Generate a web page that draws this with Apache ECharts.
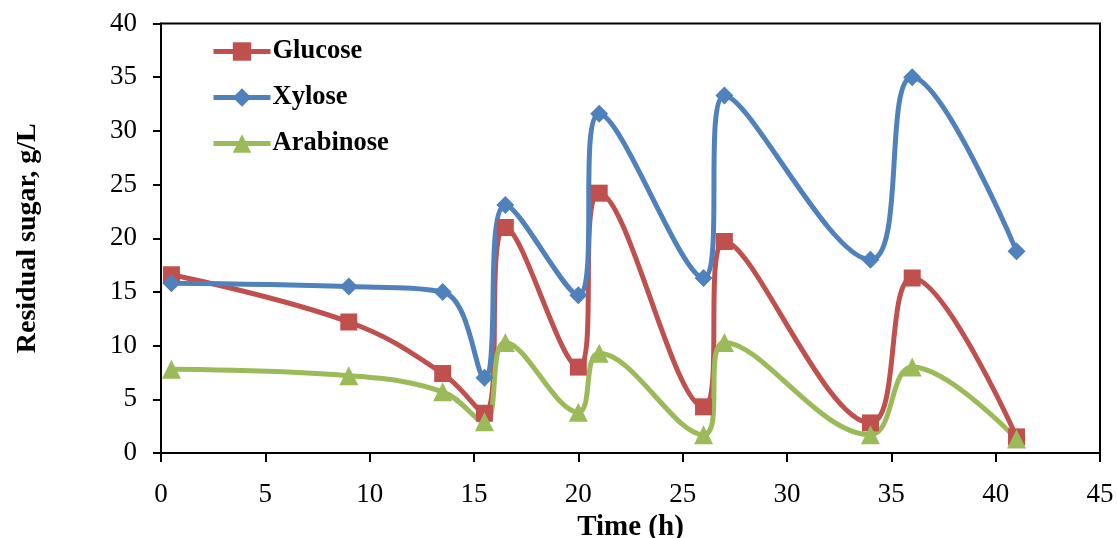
<!DOCTYPE html>
<html>
<head>
<meta charset="utf-8">
<script src="https://cdn.jsdelivr.net/npm/echarts@6/dist/echarts.min.js"></script>
<style>
html,body{margin:0;padding:0;background:#fff;}
#chart{width:1117px;height:538px;}
</style>
</head>
<body>
<div id="chart"></div>
<script>
var timeH = [0.5, 9, 13.5, 15.5, 16.5, 20, 21, 26, 27, 34, 36, 41];
var glucose = [16.6, 12.2, 7.4, 3.7, 21.0, 8.0, 24.2, 4.3, 19.7, 2.8, 16.3, 1.5];
var xylose = [15.8, 15.5, 15.0, 7.0, 23.1, 14.7, 31.6, 16.3, 33.3, 18.0, 35.0, 18.8];
var arabinose = [7.8, 7.2, 5.7, 2.9, 10.3, 3.8, 9.3, 1.7, 10.3, 1.7, 8.0, 1.3];
var xTicks = [0, 5, 10, 15, 20, 25, 30, 35, 40, 45];
var yTicks = [0, 5, 10, 15, 20, 25, 30, 35, 40];

function pairs(ys) { return timeH.map(function (t, i) { return [t, ys[i]]; }); }

var FONT = '"Liberation Serif", "Times New Roman", serif';
var chart = echarts.init(document.getElementById('chart'), null, {renderer: 'canvas'});

function mk(name, data, color, symbol, size) {
  return {
    name: name, type: 'line', data: pairs(data), smooth: 0.4,
    symbol: symbol, symbolSize: size, showSymbol: true,
    lineStyle: {color: color, width: 5},
    itemStyle: {color: color},
    emphasis: {disabled: true},
    animation: false
  };
}

chart.setOption({
  backgroundColor: '#fff',
  animation: false,
  grid: {left: 161, right: 17, top: 23.5, bottom: 85, show: true, borderColor: '#000', borderWidth: 2,
         backgroundColor: 'transparent', containLabel: false, outerBoundsMode: 'none'},
  legend: {
    left: 211, top: 38, orient: 'vertical', padding: 0,
    itemWidth: 57, itemHeight: 23, itemGap: 19,
    lineStyle: {width: 5},
    textStyle: {fontFamily: FONT, fontWeight: 'bold', fontSize: 26.5, color: '#000', padding: [0, 0, 0, -3]},
    data: ['Glucose', 'Xylose', 'Arabinose']
  },
  xAxis: {
    type: 'value', min: xTicks[0], max: xTicks[xTicks.length - 1], interval: 5,
    name: 'Time (h)', nameLocation: 'middle', nameGap: 51,
    nameTextStyle: {fontFamily: FONT, fontWeight: 'bold', fontSize: 29, color: '#000'},
    axisLine: {lineStyle: {color: '#000', width: 2}},
    axisTick: {show: true, inside: false, length: 9, lineStyle: {color: '#000', width: 2}},
    axisLabel: {fontFamily: FONT, fontSize: 27, color: '#000', margin: 28},
    splitLine: {show: false}
  },
  yAxis: {
    type: 'value', min: yTicks[0], max: yTicks[yTicks.length - 1], interval: 5,
    name: 'Residual sugar, g/L', nameLocation: 'middle', nameGap: 119, nameRotate: 90,
    nameTextStyle: {fontFamily: FONT, fontWeight: 'bold', fontSize: 28, color: '#000'},
    axisLine: {show: true, lineStyle: {color: '#000', width: 2}},
    axisTick: {show: true, inside: false, length: 8, lineStyle: {color: '#000', width: 2}},
    axisLabel: {fontFamily: FONT, fontSize: 27, color: '#000', margin: 24},
    splitLine: {show: false}
  },
  series: [
    mk('Glucose', glucose, '#C0504D', 'rect', 17),
    mk('Xylose', xylose, '#4F81BD', 'diamond', 18),
    mk('Arabinose', arabinose, '#9BBB59', 'triangle', 19)
  ]
});
</script>
</body>
</html>
